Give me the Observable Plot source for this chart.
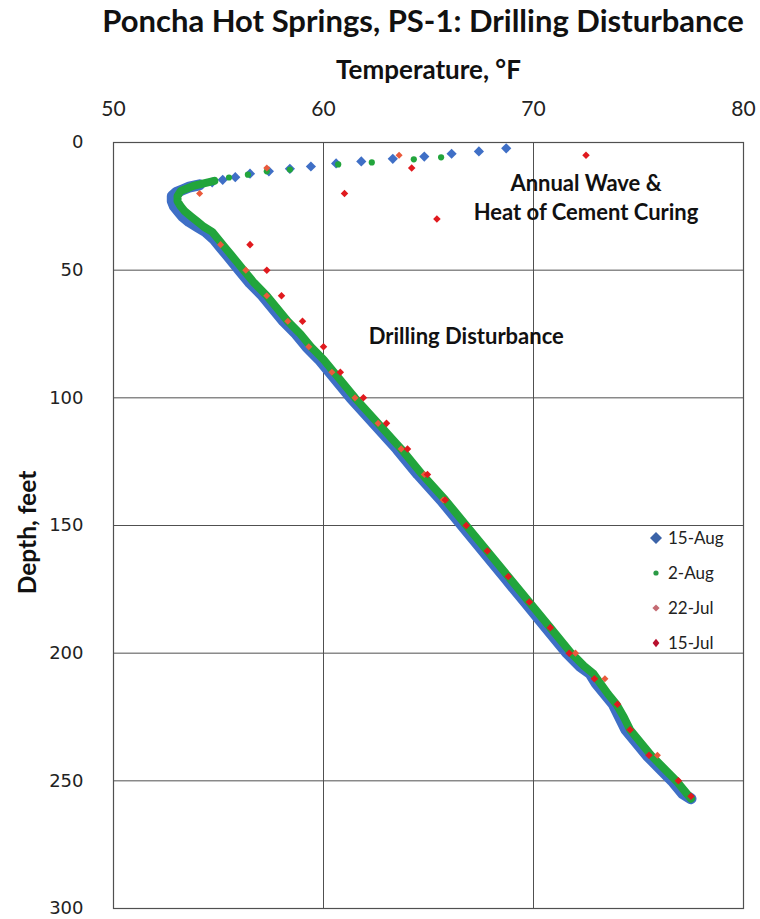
<!DOCTYPE html>
<html>
<head>
<meta charset="utf-8">
<script src="https://cdn.jsdelivr.net/npm/d3@7"></script>
<script src="https://cdn.jsdelivr.net/npm/@observablehq/plot@0.6"></script>
<style>
  html, body { margin: 0; padding: 0; background: #fff; }
  #wrap { position: relative; width: 760px; height: 919px; }
  #title { position: absolute; left: 0; top: 0; width: 760px; height: 42px; box-sizing: border-box; padding-left: 86px;
           text-align: center; font: bold 31px Lato, "Open Sans", sans-serif; line-height: 40px; color: #111; white-space: nowrap; }
  #chart { position: absolute; left: 0; top: 42px; }
  #legend { position: absolute; left: 648px; top: 520px; font: 17px Lato, sans-serif; color: #222; }
  #legend .row { height: 35px; display: flex; align-items: center; }
  #legend svg { width: 16px; height: 16px; margin-right: 4px; }
</style>
</head>
<body>
<div id="wrap">
  <div id="title">Poncha Hot Springs, PS-1: Drilling Disturbance</div>
  <div id="chart"></div>
  <div id="legend"></div>
</div>
<script>
// ---- Data ----
const xTicks = [50, 60, 70, 80];
const yTicks = [0, 50, 100, 150, 200, 250, 300];

// 15-Aug (blue diamonds)
const aug15Depth = [2.3, 3.5, 4.4, 5.5, 6.4, 7.4, 8.2, 9.4, 10.3, 11.3, 12.2, 13.6, 14.6, 15.6, 16.6,
  17.5, 18.5, 19.5, 21, 23, 25, 27, 29, 31, 33, 35, 38, 41, 44, 47, 50, 55, 60, 65, 70, 75, 80, 85, 90, 95,
  100, 110, 120, 130, 140, 150, 160, 170, 180, 190, 200, 205, 208, 212, 216, 220, 225, 230, 235, 240, 245, 250, 255, 257];
const aug15Temp = [68.7, 67.4, 66.1, 64.8, 63.3, 61.8, 60.6, 59.4, 58.4, 57.4, 56.5, 55.8, 55.2, 54.7, 54.1,
  53.6, 53.3, 53.0, 52.8, 52.8, 52.9, 53.1, 53.3, 53.6, 54.0, 54.4, 54.8, 55.1, 55.4, 55.7, 56.0, 56.5, 57.1, 57.6, 58.1, 58.7, 59.2, 59.8, 60.3, 60.8,
  61.3, 62.4, 63.5, 64.5, 65.6, 66.6, 67.6, 68.6, 69.6, 70.6, 71.6, 72.2, 72.7, 73.0, 73.4, 73.8, 74.1, 74.4, 74.9, 75.4, 76.0, 76.6, 77.1, 77.5];

// 2-Aug (green dots)
const aug2Depth = [5.8, 6.6, 7.8, 8.6, 10.6, 11.3, 12.6, 13.7, 15, 16, 17, 18, 19, 21, 23, 25, 27, 29, 31, 33, 35, 38, 41, 44, 47,
  50, 55, 60, 65, 70, 75, 80, 85, 90, 95, 100, 110, 120, 130, 140, 150, 160, 170, 180, 190,
  200, 205, 208, 212, 216, 220, 225, 230, 235, 240, 245, 250, 255, 257];
const aug2Temp = [65.6, 64.3, 62.3, 60.7, 58.4, 57.3, 56.4, 55.5, 54.8, 54.3, 53.8, 53.5, 53.2, 53.05, 53.05, 53.2, 53.4, 53.7, 54.0, 54.3, 54.7, 55.0, 55.3, 55.6, 55.9,
  56.2, 56.7, 57.3, 57.8, 58.3, 58.9, 59.4, 60.0, 60.5, 61.0, 61.5, 62.6, 63.7, 64.7, 65.8, 66.8, 67.8, 68.8, 69.8, 70.8,
  71.8, 72.4, 72.85, 73.2, 73.55, 73.95, 74.3, 74.6, 75.1, 75.6, 76.2, 76.8, 77.3, 77.5];

// 22-Jul (orange-red small diamonds)
const jul22Depth = [5, 10, 20, 40, 50, 60, 70, 80, 90, 100, 110, 120, 130, 140, 200, 210, 240];
const jul22Temp  = [63.6, 57.3, 54.1, 55.1, 56.3, 57.3, 58.3, 59.3, 60.4, 61.5, 62.6, 63.7, 64.8, 65.7, 72.0, 73.4, 75.9];

// 15-Jul (red small diamonds)
const jul15Depth = [5, 10, 20, 30, 40, 50, 60, 70, 80, 90, 100, 110, 120, 130, 140, 150, 160, 170, 180, 190,
  200, 210, 220, 230, 240, 250, 256];
const jul15Temp  = [72.5, 64.2, 61.0, 65.4, 56.5, 57.3, 58.0, 59.0, 60.0, 60.8, 61.9, 63.0, 64.0, 64.95, 65.8, 66.8, 67.8, 68.8, 69.8, 70.8,
  71.7, 72.9, 74.0, 74.6, 75.5, 76.9, 77.5];

const seriesNames = ["15-Aug", "2-Aug", "22-Jul", "15-Jul"];

const annoText  = ["Annual Wave &", "Heat of Cement Curing", "Drilling Disturbance"];
const annoTemp  = [72.5, 72.5, 66.8];
const annoDepth = [16.1, 27.4, 76.0];

// ---- Build tables ----
const zip = (ds, ts) => ds.map((d, i) => ({depth: d, temp: ts[i]}));
const aug15 = zip(aug15Depth, aug15Temp);
const aug2 = zip(aug2Depth, aug2Temp);
const jul22 = zip(jul22Depth, jul22Temp);
const jul15 = zip(jul15Depth, jul15Temp);
const annos = annoText.map((t, i) => ({text: t, temp: annoTemp[i], depth: annoDepth[i]}));

const BLUE = "#3f6fc6", GREEN = "#22a53c", ORANGE = "#ea5a3c", RED = "#e01a1e";
const GRID = "#505050";

const chart = Plot.plot({
  width: 760,
  height: 877,
  marginTop: 100,
  marginLeft: 113,
  marginRight: 17,
  marginBottom: 11,
  style: {fontFamily: "Lato, sans-serif", background: "white", overflow: "visible"},
  x: {domain: [50, 80]},
  y: {domain: [0, 300], reverse: true},
  marks: [
    Plot.gridX(xTicks, {stroke: GRID, strokeOpacity: 1, strokeWidth: 1}),
    Plot.gridY(yTicks, {stroke: GRID, strokeOpacity: 1, strokeWidth: 1}),
    Plot.frame({stroke: GRID, strokeWidth: 1.2}),
    Plot.axisX(xTicks, {anchor: "top", tickSize: 0, tickPadding: 27, label: null,
      fontSize: 21, fontFamily: "Lato, sans-serif", fill: "#222"}),
    Plot.axisY(yTicks, {anchor: "left", tickSize: 0, tickPadding: 30, label: null,
      fontSize: 18, fontFamily: "DejaVu Sans, sans-serif", fill: "#222"}),
    Plot.text(["Temperature, °F"], {frameAnchor: "top", dy: -72, lineAnchor: "middle",
      fontSize: 26, fontWeight: "bold", fill: "#111"}),
    Plot.text(["Depth, feet"], {frameAnchor: "left", dx: -85, dy: 7, rotate: -90, lineAnchor: "middle",
      textAnchor: "middle", fontSize: 24.5, fontWeight: "bold", fill: "#111"}),
    // dense profile bands
    Plot.line(aug15.filter(d => d.depth >= 16.6), {x: "temp", y: "depth", stroke: BLUE, strokeWidth: 11,
      strokeLinejoin: "round", strokeLinecap: "round"}),
    Plot.dot(aug15, {x: "temp", y: "depth", symbol: "diamond2", r: 4.6, fill: BLUE, stroke: "none"}),
    Plot.line(aug2.filter(d => d.depth >= 15), {x: "temp", y: "depth", stroke: GREEN, strokeWidth: 8,
      strokeLinejoin: "round", strokeLinecap: "round"}),
    Plot.dot(aug2, {x: "temp", y: "depth", r: 3.1, fill: GREEN, stroke: "none"}),
    Plot.dot(jul22, {x: "temp", y: "depth", symbol: "diamond2", r: 3.2, fill: ORANGE, stroke: "none"}),
    Plot.dot(jul15, {x: "temp", y: "depth", symbol: "diamond2", r: 3.4, fill: RED, stroke: "none"}),
    Plot.text(annos, {x: "temp", y: "depth", text: "text", fontSize: 22, fontWeight: "bold", fill: "#111",
      textAnchor: "middle", lineAnchor: "middle"})
  ]
});
document.getElementById("chart").appendChild(chart);

// ---- Legend ----
const legendMarks = {
  "15-Aug": `<svg viewBox="-8 -8 16 16"><path d="M0,-6L6,0L0,6L-6,0Z" fill="#3b63a8"/></svg>`,
  "2-Aug": `<svg viewBox="-8 -8 16 16"><circle r="2.6" fill="#2a9a45"/></svg>`,
  "22-Jul": `<svg viewBox="-8 -8 16 16"><path d="M0,-3.6L3.6,0L0,3.6L-3.6,0Z" fill="#c46a72"/></svg>`,
  "15-Jul": `<svg viewBox="-8 -8 16 16"><path d="M0,-4.2L3.4,0L0,4.2L-3.4,0Z" fill="#b8102e"/></svg>`
};
const legend = document.getElementById("legend");
seriesNames.forEach(name => {
  const row = document.createElement("div");
  row.className = "row";
  row.innerHTML = legendMarks[name] + `<span>${name}</span>`;
  legend.appendChild(row);
});
</script>
</body>
</html>
